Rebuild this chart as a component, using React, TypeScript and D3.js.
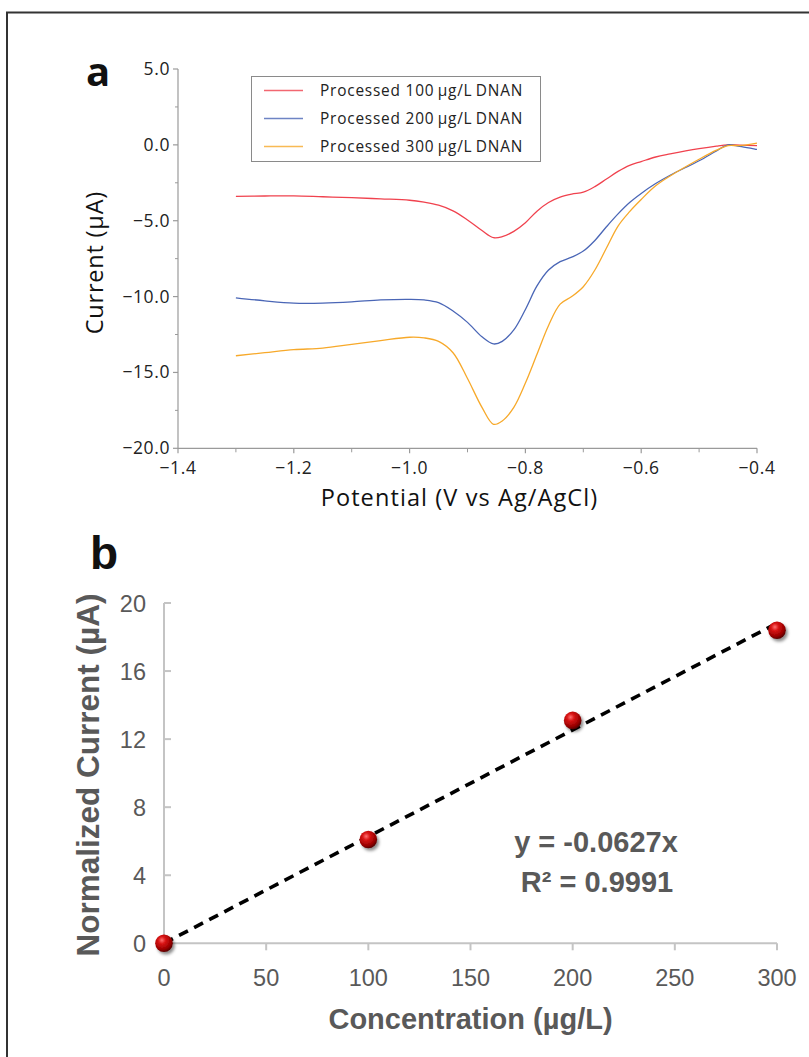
import React from "react";
import * as d3 from "d3";

// ---------- Panel a data ----------
const potentials = [-1.30, -1.25, -1.20, -1.15, -1.10, -1.05, -1.00, -0.975, -0.95, -0.925, -0.90, -0.875, -0.855, -0.84, -0.82, -0.80, -0.78, -0.76, -0.74, -0.72, -0.70, -0.68, -0.66, -0.64, -0.62, -0.60, -0.575, -0.55, -0.50, -0.47, -0.45, -0.43, -0.40];
const current100 = [-3.40, -3.37, -3.36, -3.42, -3.48, -3.56, -3.65, -3.78, -3.98, -4.35, -4.95, -5.65, -6.12, -6.05, -5.70, -5.13, -4.37, -3.80, -3.45, -3.25, -3.12, -2.75, -2.25, -1.75, -1.35, -1.10, -0.80, -0.60, -0.25, -0.08, 0.0, -0.02, -0.05];
const current200 = [-10.08, -10.28, -10.43, -10.43, -10.35, -10.22, -10.18, -10.22, -10.40, -10.95, -11.70, -12.65, -13.12, -12.95, -12.20, -10.85, -9.30, -8.25, -7.70, -7.40, -7.00, -6.30, -5.40, -4.55, -3.80, -3.20, -2.55, -2.00, -1.05, -0.40, 0.0, -0.10, -0.30];
const current300 = [-13.90, -13.70, -13.50, -13.40, -13.15, -12.90, -12.68, -12.72, -12.95, -13.70, -15.40, -17.30, -18.42, -18.20, -17.30, -15.70, -13.80, -11.90, -10.50, -10.00, -9.35, -8.25, -6.80, -5.35, -4.40, -3.60, -2.70, -2.05, -0.95, -0.35, -0.05, -0.05, 0.12];
const seriesLabels = ["Processed 100\u2009\u00b5g/L\u2009DNAN", "Processed 200\u2009\u00b5g/L\u2009DNAN", "Processed 300\u2009\u00b5g/L\u2009DNAN"];
const seriesColors = ["#f0424e", "#4a66b6", "#f7a92a"];
const xTicksA = [-1.4, -1.2, -1.0, -0.8, -0.6, -0.4];
const xMinorA = [-1.3, -1.1, -0.9, -0.7, -0.5];
const yTicksA = [5, 0, -5, -10, -15, -20];
const yMinorA = [2.5, -2.5, -7.5, -12.5, -17.5];

// ---------- Panel b data ----------
const concentrations = [0, 100, 200, 300];
const normCurrents = [0, 6.1, 13.1, 18.4];
const fitSlope = 0.0627;
const xTicksB = [0, 50, 100, 150, 200, 250, 300];
const yTicksB = [0, 4, 8, 12, 16, 20];

const fontA = "'Open Sans', 'Noto Sans', sans-serif";
const fontB = "'Liberation Sans', Arial, sans-serif";
const fmtA = (v: number) => (v < 0 ? "\u2212" : "") + Math.abs(v).toFixed(1);

export default function App() {
  // Panel a scales
  const xA = d3.scaleLinear().domain([-1.4, -0.4]).range([178, 757]);
  const yA = d3.scaleLinear().domain([-20, 5]).range([448.3, 69]);
  const seriesA = [current100, current200, current300];
  const lineA = d3
    .line<number>()
    .x((_, i) => xA(potentials[i]))
    .y((d) => yA(d))
    .curve(d3.curveCatmullRom.alpha(0.5));

  // Panel b scales
  const xB = d3.scaleLinear().domain([0, 300]).range([164, 777]);
  const yB = d3.scaleLinear().domain([0, 20]).range([943.3, 603]);

  const axisGrayA = "#9a9a9a";
  const textA = "#222";
  const axisGrayB = "#c4c4c4";
  const textB = "#595959";

  const legendRows = [90.5, 118.5, 146.5];

  return (
    <svg
      width={809}
      height={1057}
      style={{ position: "absolute", left: 0, top: 0, background: "#fff" }}
    >
      <defs>
        <radialGradient id="sphere" cx="0.38" cy="0.32" r="0.7">
          <stop offset="0" stopColor="#ff7070" />
          <stop offset="0.3" stopColor="#d81414" />
          <stop offset="0.75" stopColor="#9a0000" />
          <stop offset="1" stopColor="#540000" />
        </radialGradient>
        <filter id="shadow" x="-50%" y="-50%" width="200%" height="200%">
          <feDropShadow dx="2" dy="2.5" stdDeviation="1.6" floodColor="#000" floodOpacity="0.45" />
        </filter>
      </defs>

      {/* outer frame */}
      <rect x={7} y={12.5} width={830} height={1070} fill="none" stroke="#333" strokeWidth={2} />

      {/* ================= Panel a ================= */}
      <text x={86} y={86} fontFamily={fontA} fontWeight={700} fontSize={40} fill="#111">
        a
      </text>

      {/* y axis */}
      <line x1={xA(-1.4)} x2={xA(-1.4)} y1={yA(5)} y2={yA(-20)} stroke={axisGrayA} strokeWidth={1.2} />
      {yTicksA.map((t) => (
        <g key={"ya" + t}>
          <line x1={xA(-1.4) - 5} x2={xA(-1.4)} y1={yA(t)} y2={yA(t)} stroke={axisGrayA} strokeWidth={1.2} />
          <text
            x={xA(-1.4) - 8}
            y={yA(t) + 6}
            textAnchor="end"
            fontFamily={fontA}
            fontSize={17.5}
            letterSpacing={0.6}
            fill={textA}
          >
            {fmtA(t)}
          </text>
        </g>
      ))}
      {yMinorA.map((t) => (
        <line key={"yma" + t} x1={xA(-1.4) - 3} x2={xA(-1.4)} y1={yA(t)} y2={yA(t)} stroke={axisGrayA} strokeWidth={1} />
      ))}

      {/* x axis */}
      <line x1={xA(-1.4)} x2={xA(-0.4)} y1={yA(-20)} y2={yA(-20)} stroke={axisGrayA} strokeWidth={1.2} />
      {xTicksA.map((t) => (
        <g key={"xa" + t}>
          <line x1={xA(t)} x2={xA(t)} y1={yA(-20)} y2={yA(-20) + 5} stroke={axisGrayA} strokeWidth={1.2} />
          <text
            x={xA(t)}
            y={yA(-20) + 26}
            textAnchor="middle"
            fontFamily={fontA}
            fontSize={17.5}
            letterSpacing={0.6}
            fill={textA}
          >
            {fmtA(t)}
          </text>
        </g>
      ))}
      {xMinorA.map((t) => (
        <line key={"xma" + t} x1={xA(t)} x2={xA(t)} y1={yA(-20)} y2={yA(-20) + 4} stroke={axisGrayA} strokeWidth={1} />
      ))}

      {/* axis titles */}
      <text
        x={(xA(-1.4) + xA(-0.4)) / 2 - 8}
        y={506}
        textAnchor="middle"
        fontFamily={fontA}
        fontSize={23.5}
        letterSpacing={1.1}
        fill="#111"
      >
        Potential (V vs Ag/AgCl)
      </text>
      <text
        transform={`translate(103, ${(yA(5) + yA(-20)) / 2 + 4}) rotate(-90)`}
        textAnchor="middle"
        fontFamily={fontA}
        fontSize={23.5}
        letterSpacing={0.8}
        fill="#111"
      >
        Current (µA)
      </text>

      {/* curves */}
      {seriesA.map((s, i) => (
        <path key={"c" + i} d={lineA(s) || ""} fill="none" stroke={seriesColors[i]} strokeWidth={1.3} />
      ))}

      {/* legend */}
      <rect x={251.5} y={76.5} width={289} height={85} fill="#fff" stroke="#8a8a8a" strokeWidth={1} />
      {seriesLabels.map((lab, i) => (
        <g key={"lg" + i}>
          <line x1={264} x2={303} y1={legendRows[i]} y2={legendRows[i]} stroke={seriesColors[i]} strokeWidth={1.6} opacity={0.8} />
          <text x={320} y={legendRows[i] + 5.5} fontFamily={fontA} fontSize={15.4} letterSpacing={0.8} fill="#222">
            {lab}
          </text>
        </g>
      ))}

      {/* ================= Panel b ================= */}
      <text x={90} y={569} fontFamily={fontB} fontWeight={700} fontSize={46} fill="#111">
        b
      </text>

      {/* axes */}
      <line x1={xB(0)} x2={xB(0)} y1={yB(20)} y2={yB(0)} stroke={axisGrayB} strokeWidth={2} />
      <line x1={xB(0)} x2={xB(300)} y1={yB(0)} y2={yB(0)} stroke={axisGrayB} strokeWidth={2} />
      {yTicksB.map((t) => (
        <g key={"yb" + t}>
          <line x1={xB(0)} x2={xB(0) + 7} y1={yB(t)} y2={yB(t)} stroke={axisGrayB} strokeWidth={2} />
          <text x={xB(0) - 18} y={yB(t) + 8.5} textAnchor="end" fontFamily={fontB} fontSize={23.5} fill={textB}>
            {t}
          </text>
        </g>
      ))}
      {xTicksB.map((t) => (
        <g key={"xb" + t}>
          <line x1={xB(t)} x2={xB(t)} y1={yB(0)} y2={yB(0) + 7} stroke={axisGrayB} strokeWidth={2} />
          <text x={xB(t)} y={986} textAnchor="middle" fontFamily={fontB} fontSize={23.5} fill={textB}>
            {t}
          </text>
        </g>
      ))}

      {/* titles */}
      <text
        x={(xB(0) + xB(300)) / 2}
        y={1029}
        textAnchor="middle"
        fontFamily={fontB}
        fontWeight={700}
        fontSize={29}
        fill={textB}
      >
        Concentration (µg/L)
      </text>
      <text
        transform={`translate(99, 775) rotate(-90)`}
        textAnchor="middle"
        fontFamily={fontB}
        fontWeight={700}
        fontSize={31.5}
        fill={textB}
      >
        Normalized Current (µA)
      </text>

      {/* trend line */}
      <line
        x1={xB(0)}
        y1={yB(0)}
        x2={xB(300)}
        y2={yB(fitSlope * 300)}
        stroke="#000"
        strokeWidth={3.6}
        strokeDasharray="10,7"
      />

      {/* points */}
      {concentrations.map((c, i) => (
        <circle key={"p" + i} cx={xB(c)} cy={yB(normCurrents[i])} r={8.8} fill="url(#sphere)" filter="url(#shadow)" />
      ))}

      {/* equation */}
      <text x={596} y={852} textAnchor="middle" fontFamily={fontB} fontWeight={700} fontSize={29} fill={textB}>
        y = -0.0627x
      </text>
      <text x={597} y={892} textAnchor="middle" fontFamily={fontB} fontWeight={700} fontSize={29} fill={textB}>
        R² = 0.9991
      </text>
    </svg>
  );
}
